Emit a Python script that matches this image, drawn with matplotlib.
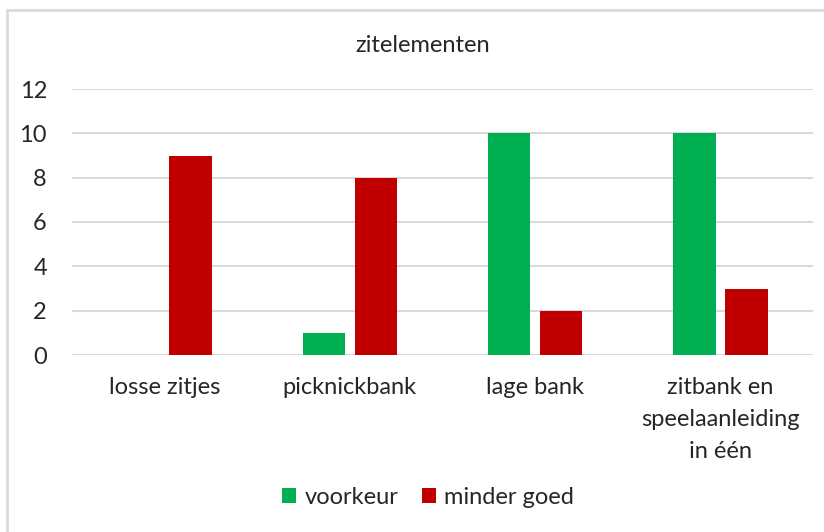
import numpy as np
import matplotlib.pyplot as plt
from matplotlib.patches import Rectangle

categories = ['losse zitjes', 'picknickbank', 'lage bank', 'zitbank en\nspeelaanleiding\nin één']
voorkeur = [0, 1, 10, 10]
minder_goed = [9, 8, 2, 3]
yticks = [0, 2, 4, 6, 8, 10, 12]

plt.rcParams['font.family'] = ['Lato', 'DejaVu Sans']
txt = '#262626'

fig = plt.figure(figsize=(8.24, 5.32), dpi=100)
ax = fig.add_axes([72/824, 1-355/532, 741/824, 266/532])

x = np.arange(len(categories))
w = 0.23
ax.bar(x - 0.14, voorkeur, w, color='#00B050', label='voorkeur', zorder=3)
ax.bar(x + 0.14, minder_goed, w, color='#C00000', label='minder goed', zorder=3)

ax.set_xlim(-0.5, 3.5)
ax.set_ylim(0, 12)
ax.set_yticks(yticks)
ax.set_xticks(x)
ax.set_xticklabels(categories, linespacing=1.65)
ax.tick_params(axis='both', length=0, labelsize=17, colors=txt)
ax.tick_params(axis='y', pad=18)
ax.tick_params(axis='x', pad=16)
ax.grid(axis='y', color='#D9D9D9', linewidth=1.5, zorder=0)
for s in ax.spines.values():
    s.set_visible(False)

fig.text(423/824, 1-45/532, 'zitelementen', ha='center', va='center', fontsize=17, color=txt)

fig.legend(loc='center', bbox_to_anchor=(428/824, 1-497/532), ncol=2, frameon=False,
           fontsize=17, handlelength=0.6, handleheight=0.6, handletextpad=0.35,
           columnspacing=1.0, labelcolor=txt)

fig.patches.append(Rectangle((7/824, -0.05), 1.0, 1-10/532+0.05, transform=fig.transFigure,
                             fill=False, edgecolor='#D9D9D9', linewidth=2))

fig.savefig('out.png', dpi=100)
